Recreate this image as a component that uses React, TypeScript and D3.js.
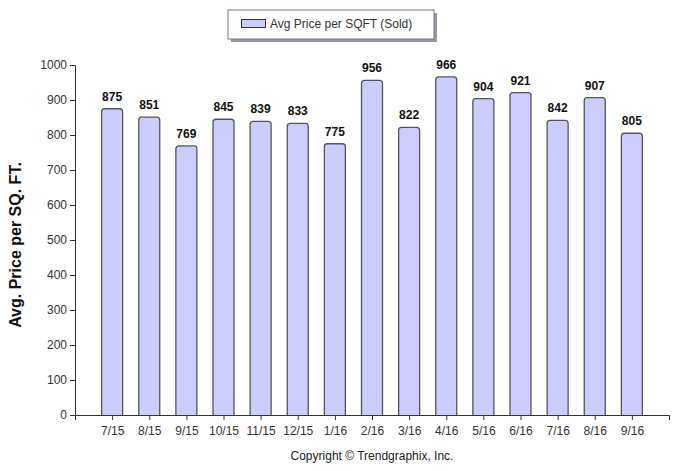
import React, { useRef, useEffect } from "react";
import * as d3 from "d3";

const categories = ["7/15", "8/15", "9/15", "10/15", "11/15", "12/15", "1/16", "2/16", "3/16", "4/16", "5/16", "6/16", "7/16", "8/16", "9/16"];
const values = [875, 851, 769, 845, 839, 833, 775, 956, 822, 966, 904, 921, 842, 907, 805];
const yTicks = [0, 100, 200, 300, 400, 500, 600, 700, 800, 900, 1000];

const W = 685;
const H = 471;
const left = 75;
const right = 669;
const top = 65;
const bottom = 415;
const barW = 21;
const font = "'Liberation Sans', Arial, sans-serif";

function App() {
  const svgRef = useRef<SVGSVGElement>(null);

  useEffect(() => {
    if (!svgRef.current) return;
    const svg = d3.select(svgRef.current);
    svg.selectAll("*").remove();

    const x = d3.scaleLinear().domain([0, categories.length + 1]).range([left, right]);
    const y = d3.scaleLinear().domain([0, 1000]).range([bottom, top]);

    // legend
    const lg = svg.append("g");
    lg.append("rect").attr("x", 231).attr("y", 13).attr("width", 206).attr("height", 29).attr("fill", "#999");
    lg.append("rect").attr("x", 228).attr("y", 10).attr("width", 206).attr("height", 29)
      .attr("fill", "#fff").attr("stroke", "#6b7a99").attr("stroke-width", 1);
    lg.append("rect").attr("x", 241.5).attr("y", 19.5).attr("width", 24).attr("height", 8)
      .attr("fill", "#ccccff").attr("stroke", "#333");
    lg.append("text").attr("x", 270).attr("y", 28).attr("font-family", font).attr("font-size", 12)
      .attr("fill", "#333").text("Avg Price per SQFT (Sold)");

    // y axis
    const ya = svg.append("g").attr("transform", `translate(${left},0)`)
      .call(d3.axisLeft(y).tickValues(yTicks).tickFormat(d3.format("d")).tickSize(5).tickPadding(3));
    ya.select(".domain").attr("stroke", "#333");
    ya.selectAll("line").attr("stroke", "#333");
    ya.selectAll("text").attr("font-family", font).attr("font-size", 12).attr("fill", "#333");

    // x axis
    const xa = svg.append("g").attr("transform", `translate(0,${bottom})`)
      .call(d3.axisBottom(x)
        .tickValues(d3.range(0, categories.length + 2))
        .tickFormat((d) => {
          const i = (d as number) - 1;
          return i >= 0 && i < categories.length ? categories[i] : "";
        })
        .tickSize(5).tickSizeOuter(0).tickPadding(6));
    xa.select(".domain").attr("stroke", "#333");
    xa.selectAll("line").attr("stroke", "#333");
    xa.selectAll("text").attr("font-family", font).attr("font-size", 12).attr("fill", "#333");

    // bars with rounded tops
    const r = 3;
    svg.append("g").selectAll("path").data(values).enter().append("path")
      .attr("d", (d, i) => {
        const cx = x(i + 1);
        const x0 = cx - barW / 2;
        const x1 = cx + barW / 2;
        const y0 = y(d);
        const yb = bottom;
        return `M${x0},${yb} L${x0},${y0 + r} Q${x0},${y0} ${x0 + r},${y0} L${x1 - r},${y0} Q${x1},${y0} ${x1},${y0 + r} L${x1},${yb}`;
      })
      .attr("fill", "#ccccff").attr("stroke", "#555").attr("stroke-width", 1.3);

    // value labels
    svg.append("g").selectAll("text").data(values).enter().append("text")
      .attr("x", (d, i) => x(i + 1))
      .attr("y", (d) => y(d) - 8)
      .attr("text-anchor", "middle")
      .attr("font-family", font).attr("font-size", 12).attr("font-weight", "bold").attr("fill", "#111")
      .text((d) => d);

    // y title
    svg.append("text")
      .attr("transform", `translate(21,${(top + bottom) / 2 + 5}) rotate(-90)`)
      .attr("text-anchor", "middle")
      .attr("font-family", font).attr("font-size", 16).attr("font-weight", "bold").attr("fill", "#111")
      .text("Avg. Price per SQ. FT.");

    // copyright
    svg.append("text").attr("x", 372).attr("y", 460).attr("text-anchor", "middle")
      .attr("font-family", font).attr("font-size", 12).attr("fill", "#222")
      .text("Copyright © Trendgraphix, Inc.");
  }, []);

  return (
    <svg ref={svgRef} width={W} height={H} style={{ position: "absolute", left: 0, top: 0, background: "#fff" }}></svg>
  );
}

export default App;
